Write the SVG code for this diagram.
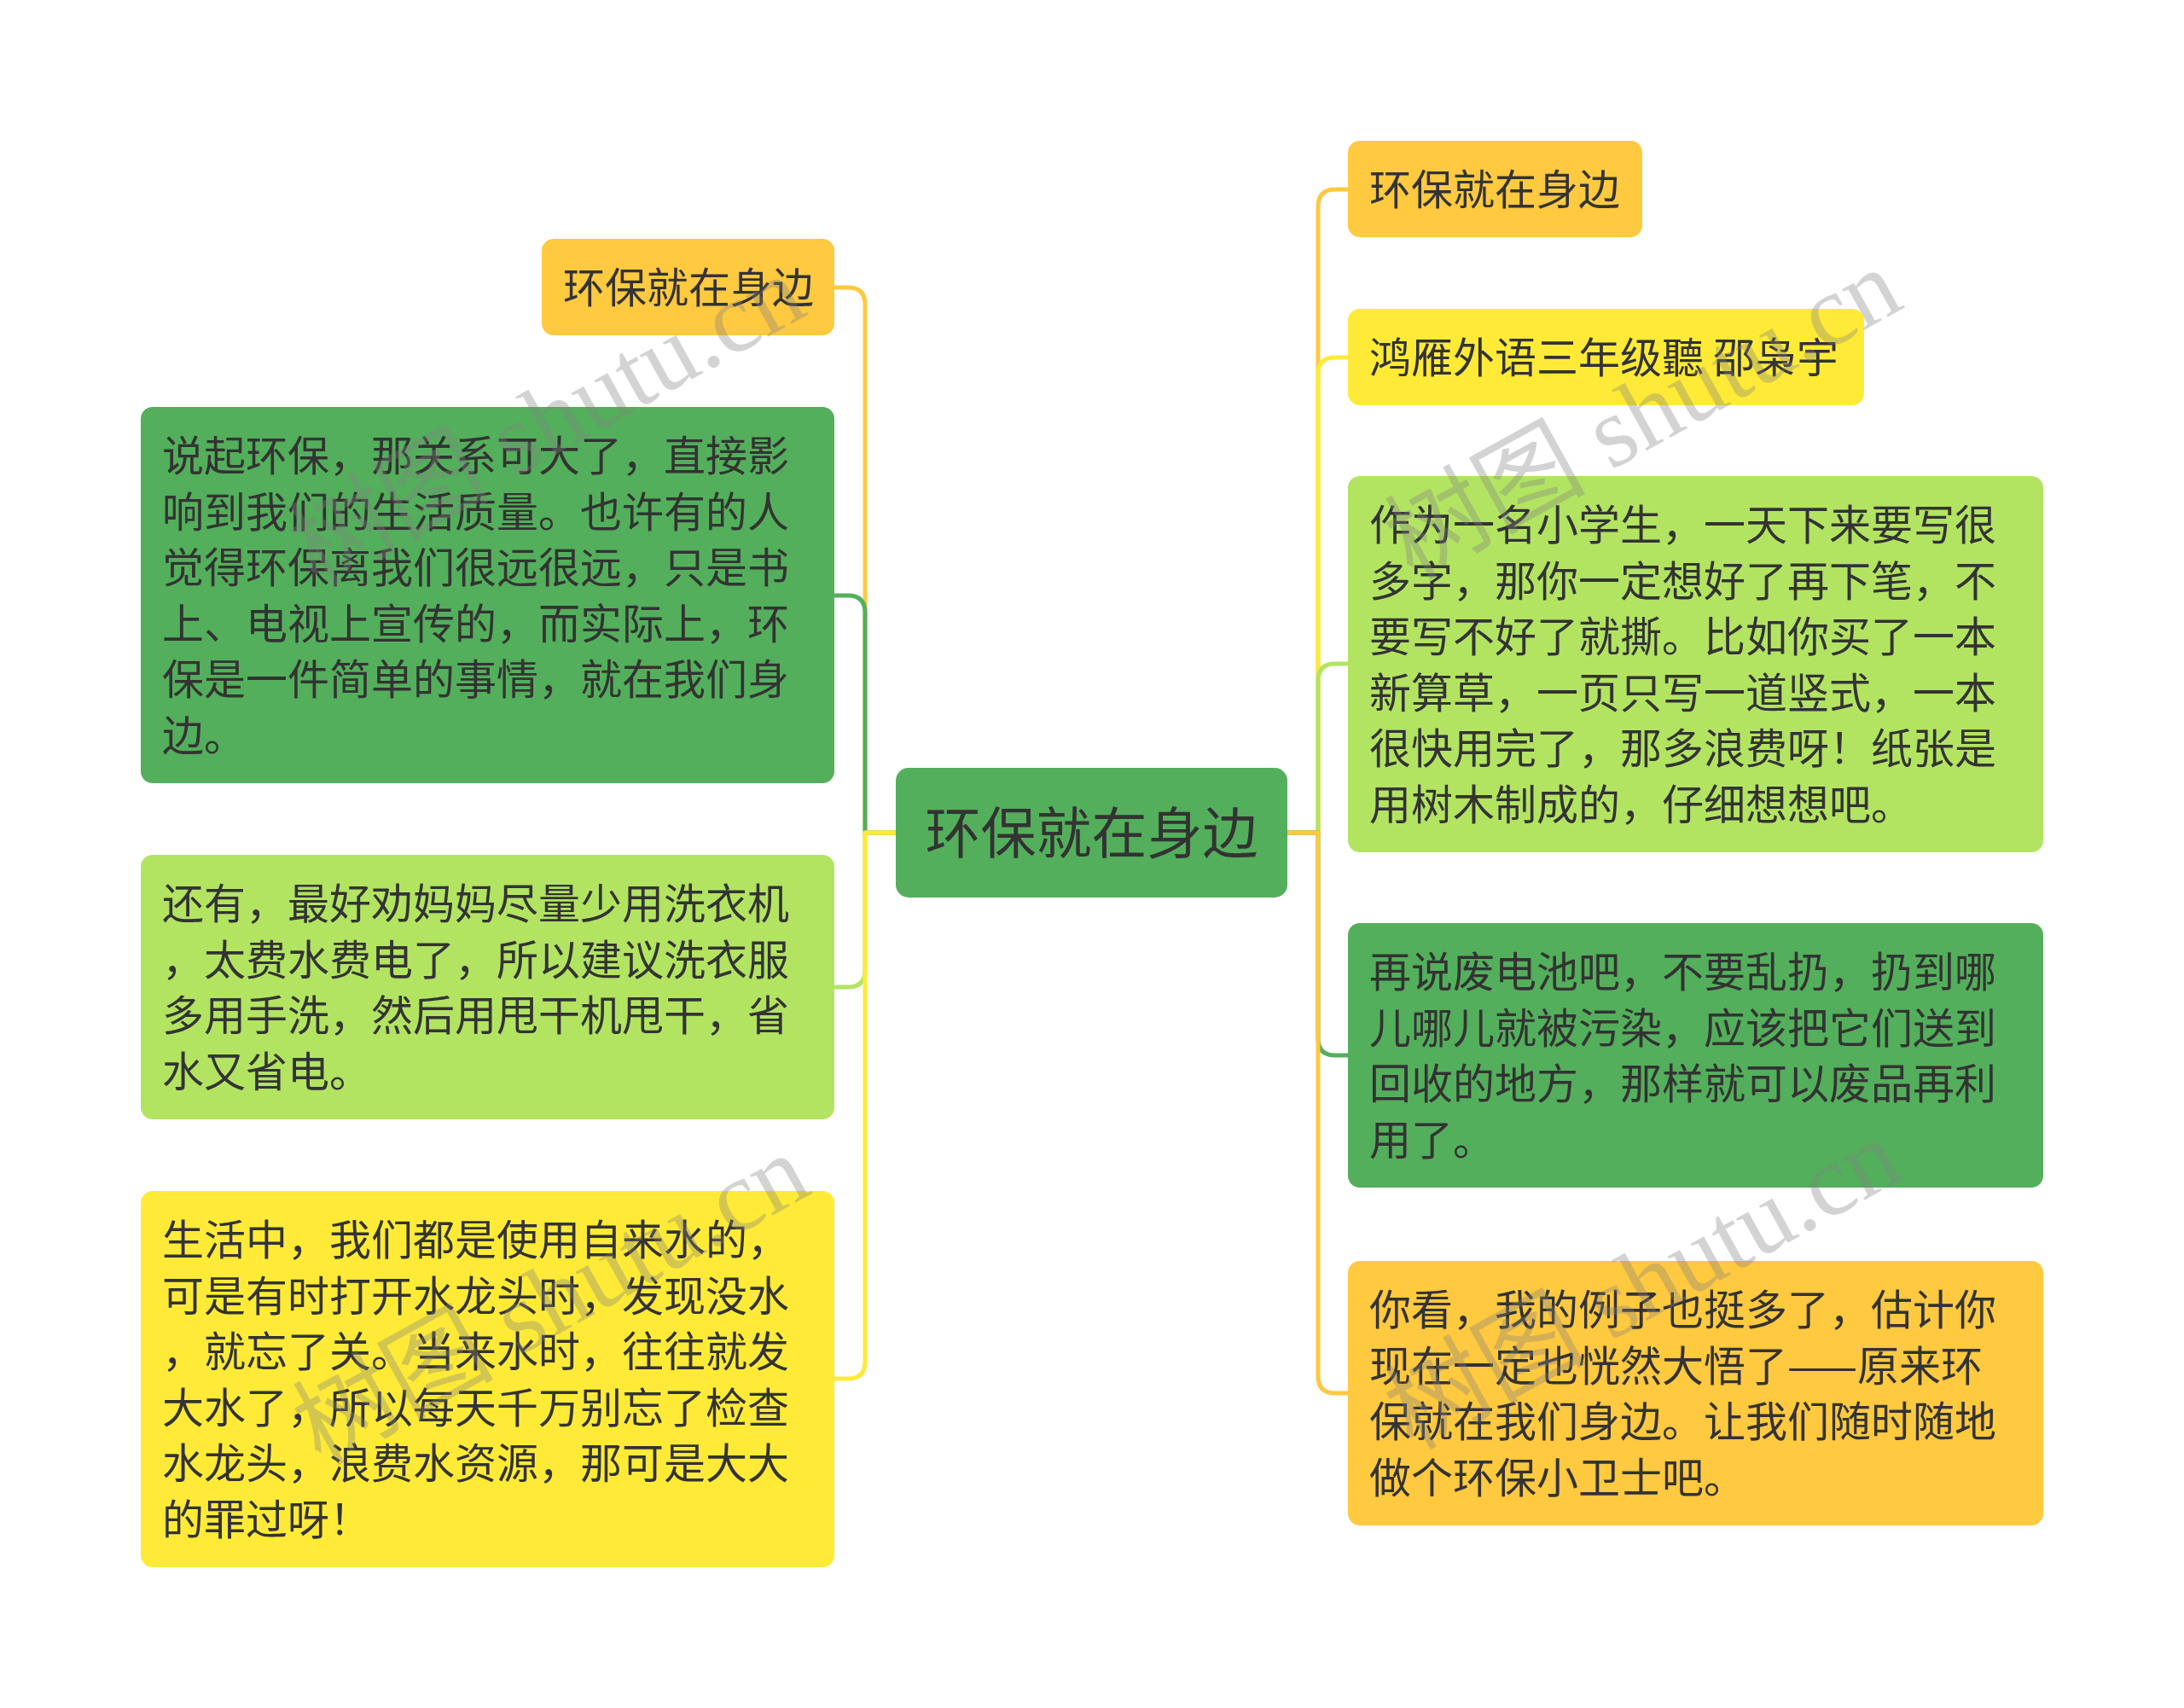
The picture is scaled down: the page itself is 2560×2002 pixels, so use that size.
<svg xmlns="http://www.w3.org/2000/svg" width="2560" height="2002" viewBox="0 0 2560 2002">
<style>
.t{font-family:"Noto Sans CJK SC","Noto Sans",sans-serif;font-size:49px;fill:#333333}
.c{font-family:"Noto Sans CJK SC","Noto Sans",sans-serif;font-size:65px;fill:#333333;text-anchor:middle}
.ln{fill:none;stroke-width:5;stroke-linejoin:round}
.wm{font-family:"Liberation Serif","Noto Sans CJK SC",serif;font-size:118px;fill:#808080;fill-opacity:0.35}
.og{fill:#FFC940}.yl{fill:#FFEB37}.lg{fill:#B2E462}.gr{fill:#53AF5B}
</style>
<rect width="2560" height="2002" fill="#FFFFFF"/>
<g id="connectors">
<path class="ln" stroke="#FFC940" d="M1050 976 H1014 V357 Q1014 337 994 337 H978"/>
<path class="ln" stroke="#53AF5B" d="M1050 976 H1014 V718 Q1014 698 994 698 H978"/>
<path class="ln" stroke="#B2E462" d="M1050 976 H1014 V1137 Q1014 1157 994 1157 H978"/>
<path class="ln" stroke="#FFEB37" d="M1050 976 H1014 V1596 Q1014 1616 994 1616 H978"/>
<path class="ln" stroke="#FFC940" d="M1509 976 H1545 V242 Q1545 222 1565 222 H1580"/>
<path class="ln" stroke="#FFEB37" d="M1509 976 H1545 V439 Q1545 419 1565 419 H1580"/>
<path class="ln" stroke="#B2E462" d="M1509 976 H1545 V798 Q1545 778 1565 778 H1580"/>
<path class="ln" stroke="#53AF5B" d="M1509 976 H1545 V1217 Q1545 1237 1565 1237 H1580"/>
<path class="ln" stroke="#FFC940" d="M1509 976 H1545 V1613 Q1545 1633 1565 1633 H1580"/>
</g>
<g id="center">
<rect class="gr" x="1050" y="900" width="459" height="152" rx="15"/>
<text class="c" x="1279.5" y="1000">环保就在身边</text>
</g>
<g id="L1">
<rect class="og" x="635" y="280" width="343" height="113" rx="14"/>
<text class="t" x="660" y="355">环保就在身边</text>
</g>
<g id="L2">
<rect class="gr" x="165" y="477" width="813" height="441" rx="14"/>
<text class="t" x="190" y="552"><tspan x="190">说起环保，那关系可大了，直接影</tspan><tspan x="190" dy="65.5">响到我们的生活质量。也许有的人</tspan><tspan x="190" dy="65.5">觉得环保离我们很远很远，只是书</tspan><tspan x="190" dy="65.5">上、电视上宣传的，而实际上，环</tspan><tspan x="190" dy="65.5">保是一件简单的事情，就在我们身</tspan><tspan x="190" dy="65.5">边。</tspan></text>
</g>
<g id="L3">
<rect class="lg" x="165" y="1002" width="813" height="310" rx="14"/>
<text class="t" x="190" y="1077"><tspan x="190">还有，最好劝妈妈尽量少用洗衣机</tspan><tspan x="190" dy="65.5">，太费水费电了，所以建议洗衣服</tspan><tspan x="190" dy="65.5">多用手洗，然后用甩干机甩干，省</tspan><tspan x="190" dy="65.5">水又省电。</tspan></text>
</g>
<g id="L4">
<rect class="yl" x="165" y="1396" width="813" height="441" rx="14"/>
<text class="t" x="190" y="1471"><tspan x="190">生活中，我们都是使用自来水的，</tspan><tspan x="190" dy="65.5">可是有时打开水龙头时，发现没水</tspan><tspan x="190" dy="65.5">，就忘了关。当来水时，往往就发</tspan><tspan x="190" dy="65.5">大水了，所以每天千万别忘了检查</tspan><tspan x="190" dy="65.5">水龙头，浪费水资源，那可是大大</tspan><tspan x="190" dy="65.5">的罪过呀！</tspan></text>
</g>
<g id="R1">
<rect class="og" x="1580" y="165" width="345" height="113" rx="14"/>
<text class="t" x="1605" y="240">环保就在身边</text>
</g>
<g id="R2">
<rect class="yl" x="1580" y="362" width="605" height="113" rx="14"/>
<text class="t" x="1605" y="437">鸿雁外语三年级聽 邵枭宇</text>
</g>
<g id="R3">
<rect class="lg" x="1580" y="558" width="815" height="441" rx="14"/>
<text class="t" x="1605" y="633"><tspan x="1605">作为一名小学生，一天下来要写很</tspan><tspan x="1605" dy="65.5">多字，那你一定想好了再下笔，不</tspan><tspan x="1605" dy="65.5">要写不好了就撕。比如你买了一本</tspan><tspan x="1605" dy="65.5">新算草，一页只写一道竖式，一本</tspan><tspan x="1605" dy="65.5">很快用完了，那多浪费呀！纸张是</tspan><tspan x="1605" dy="65.5">用树木制成的，仔细想想吧。</tspan></text>
</g>
<g id="R4">
<rect class="gr" x="1580" y="1082" width="815" height="310" rx="14"/>
<text class="t" x="1605" y="1157"><tspan x="1605">再说废电池吧，不要乱扔，扔到哪</tspan><tspan x="1605" dy="65.5">儿哪儿就被污染，应该把它们送到</tspan><tspan x="1605" dy="65.5">回收的地方，那样就可以废品再利</tspan><tspan x="1605" dy="65.5">用了。</tspan></text>
</g>
<g id="R5">
<rect class="og" x="1580" y="1478" width="815" height="310" rx="14"/>
<text class="t" x="1605" y="1553"><tspan x="1605">你看，我的例子也挺多了，估计你</tspan><tspan x="1605" dy="65.5">现在一定也恍然大悟了——原来环</tspan><tspan x="1605" dy="65.5">保就在我们身边。让我们随时随地</tspan><tspan x="1605" dy="65.5">做个环保小卫士吧。</tspan></text>
</g>
<g id="watermarks">
<text class="wm" text-anchor="middle" transform="translate(660 528) rotate(-29)">树图 shutu.cn</text>
<text class="wm" text-anchor="middle" transform="translate(1945 520) rotate(-29)">树图 shutu.cn</text>
<text class="wm" text-anchor="middle" transform="translate(665 1558) rotate(-29)">树图 shutu.cn</text>
<text class="wm" text-anchor="middle" transform="translate(1945 1540) rotate(-29)">树图 shutu.cn</text>
</g>
</svg>
